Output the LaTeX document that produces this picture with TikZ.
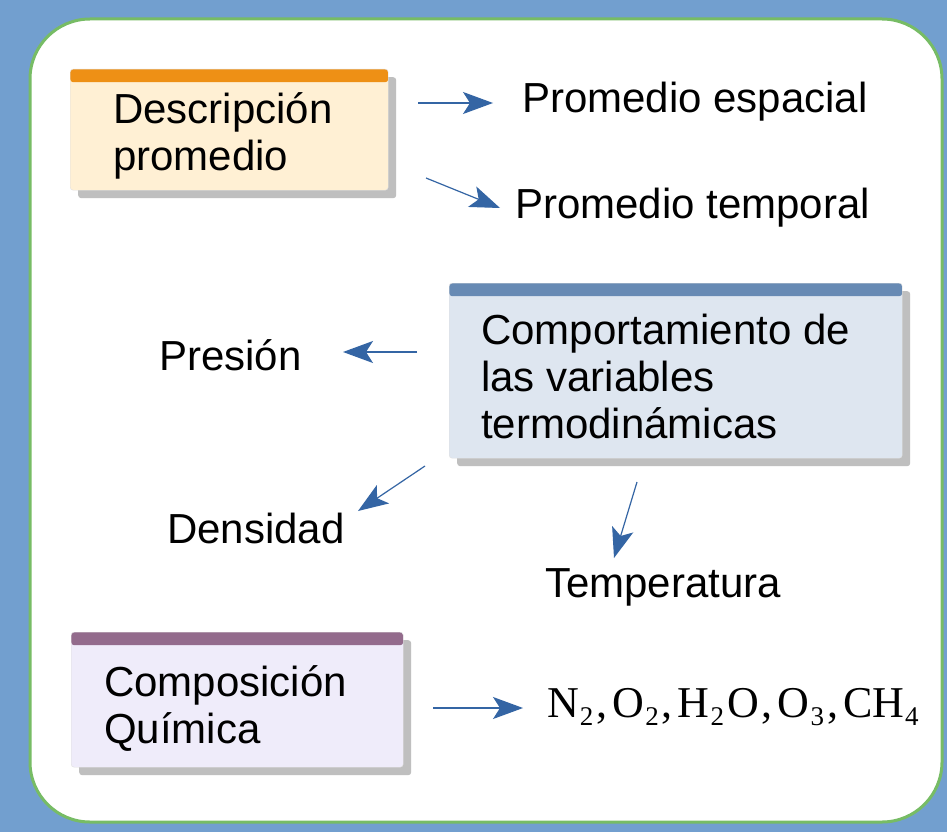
\documentclass[tikz,border=0pt]{standalone}
\usepackage{fontspec}
\setmainfont{Liberation Sans}
\newfontfamily\chemfont{Liberation Serif}
\usetikzlibrary{arrows.meta,shadows}
\definecolor{bgblue}{HTML}{729FCF}
\definecolor{rimgreen}{HTML}{77BC65}
\definecolor{arrblue}{HTML}{3465A4}
\definecolor{hdrorange}{HTML}{EE9015}
\definecolor{fillorange}{HTML}{FFF0D4}
\definecolor{hdrblue}{HTML}{678AB4}
\definecolor{fillblue}{HTML}{DEE6F0}
\definecolor{hdrpurple}{HTML}{936B8C}
\definecolor{fillpurple}{HTML}{EFECFA}
\newcommand\chsub[1]{\hspace{1pt}\raisebox{-8pt}{\fontsize{27}{27}\selectfont #1}}
\newcommand\chsep{\hspace{3pt},\hspace{5pt}}
\tikzset{
  panel/.style 2 args={draw=black!12,fill=#1,rounded corners=3pt,anchor=north west,inner sep=0pt,
    drop shadow={shadow xshift=8pt,shadow yshift=-8pt,fill=black!25,opacity=1},
    path picture={\fill[#2](path picture bounding box.north west) rectangle ([yshift=-13pt]path picture bounding box.north east);}},
  txt/.style={anchor=base west,inner sep=0pt,align=left,font=\fontsize{42}{47}\selectfont},
  arr/.style={arrblue,line width=1.2pt,-{Stealth[length=30pt,width=22pt,inset=7pt]}}
}
\begin{document}
\begin{tikzpicture}[x=1pt,y=-1pt]
\useasboundingbox (0,0) rectangle (947,832);
\fill[bgblue](0,0)rectangle(947,832);
\draw[rimgreen,line width=3pt,fill=white,rounded corners=60pt](30,19)rectangle(942,822);
\node[panel={fillorange}{hdrorange},minimum width=318pt,minimum height=121pt] (desc) at (70,69) {};
\node[txt] (desctxt) at (113,170) {Descripción\\promedio};
\node[panel={fillblue}{hdrblue},minimum width=453pt,minimum height=175pt] (comp) at (449,283) {};
\node[txt] (comptxt) at (481,438) {Comportamiento de\\las variables\\termodinámicas};
\node[panel={fillpurple}{hdrpurple},minimum width=332pt,minimum height=135pt] (quim) at (71,632) {};
\node[txt] (quimtxt) at (104,743) {Composición\\Química};
\node[txt] (esp) at (522,113) {Promedio espacial};
\node[txt] (tmp) at (515,218) {Promedio temporal};
\node[txt] (pres) at (159,370) {Presión};
\node[txt] (dens) at (167,543) {Densidad};
\node[txt] (temp) at (545,597) {Temperatura};
\node[txt,font=\fontsize{44}{47}\chemfont] (chem) at (547,717) {N\chsub{2}\chsep O\chsub{2}\chsep H\chsub{2}\hspace{3pt}O\chsep O\chsub{3}\chsep CH\chsub{4}};
\coordinate (a1) at (418,103); \coordinate (b1) at (493,103);
\coordinate (a2) at (426,178); \coordinate (b2) at (500,208);
\coordinate (a3) at (417,352); \coordinate (b3) at (343,352);
\coordinate (a4) at (425,466); \coordinate (b4) at (358,511);
\coordinate (a5) at (637,482); \coordinate (b5) at (614,558);
\coordinate (a6) at (433,708); \coordinate (b6) at (523,708);
\draw[arr](a1)--(b1);
\draw[arr](a2)--(b2);
\draw[arr](a3)--(b3);
\draw[arr](a4)--(b4);
\draw[arr](a5)--(b5);
\draw[arr](a6)--(b6);
\end{tikzpicture}
\end{document}
